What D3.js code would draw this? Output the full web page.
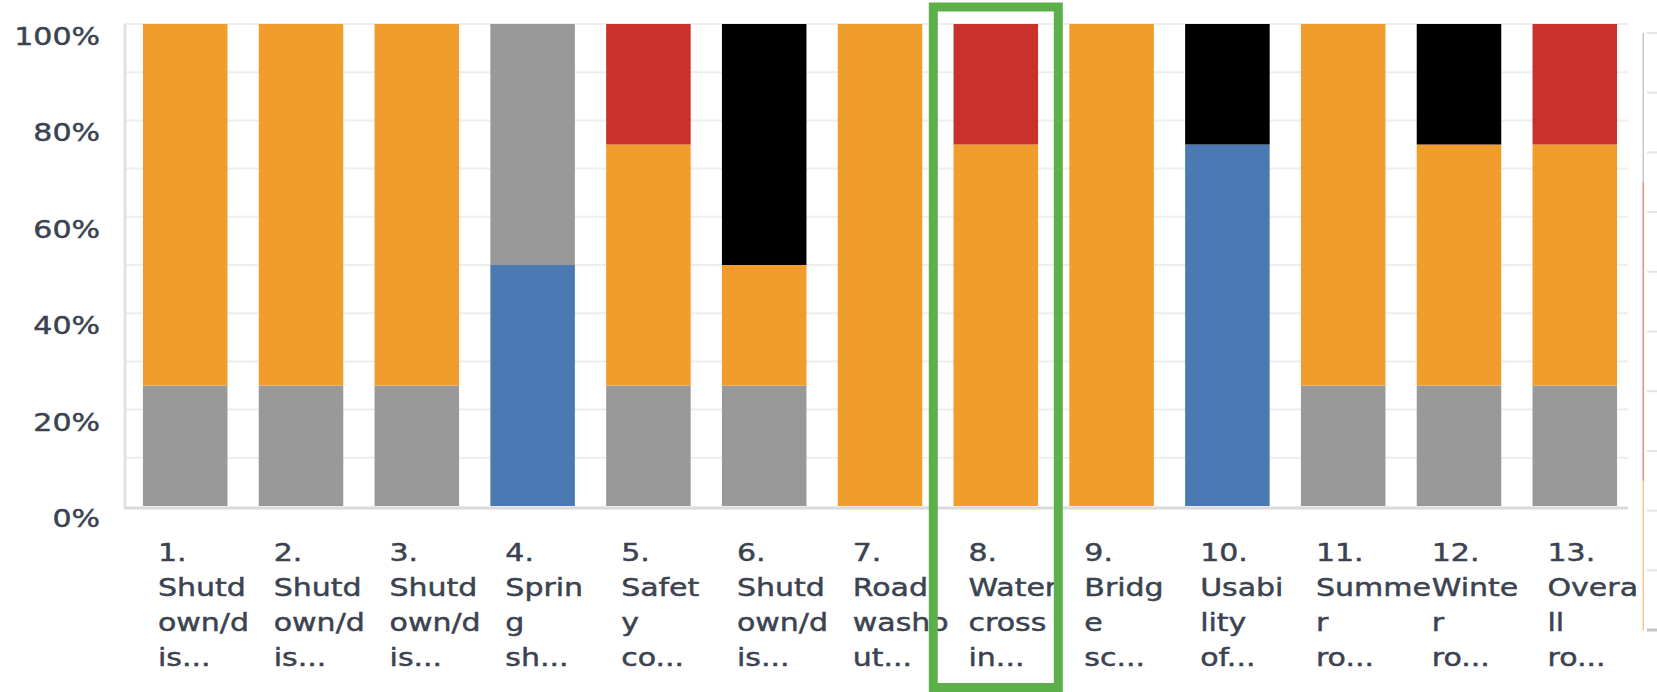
<!DOCTYPE html>
<html>
<head>
<meta charset="utf-8">
<script src="https://cdn.jsdelivr.net/npm/d3@7"></script>
<style>
  html, body { margin: 0; padding: 0; background: #ffffff; }
  svg { display: block; }
  text { font-family: "DejaVu Sans", sans-serif; fill: #3b4350; stroke: #3b4350; stroke-width: 0.45px; }
</style>
</head>
<body>
<svg id="chart" width="1657" height="692"></svg>
<script>
// ---- data ----
const categories = ["1","2","3","4","5","6","7","8","9","10","11","12","13"];
const categoryLabelLines = [
  ["1.", "Shutd", "own/d", "is..."],
  ["2.", "Shutd", "own/d", "is..."],
  ["3.", "Shutd", "own/d", "is..."],
  ["4.", "Sprin", "g", "sh..."],
  ["5.", "Safet", "y", "co..."],
  ["6.", "Shutd", "own/d", "is..."],
  ["7.", "Road", "washo", "ut..."],
  ["8.", "Water", "cross", "in..."],
  ["9.", "Bridg", "e", "sc..."],
  ["10.", "Usabi", "lity", "of..."],
  ["11.", "Summe", "r", "ro..."],
  ["12.", "Winte", "r", "ro..."],
  ["13.", "Overa", "ll", "ro..."]
];
// stacked bottom -> top
const seriesNames = ["blue", "gray", "orange", "black", "red"];
const blueValues   = [0, 0, 0, 50, 0, 0, 0, 0, 0, 75, 0, 0, 0];
const grayValues   = [25, 25, 25, 50, 25, 25, 0, 0, 0, 0, 25, 25, 25];
const orangeValues = [75, 75, 75, 0, 50, 25, 100, 75, 100, 0, 75, 50, 50];
const blackValues  = [0, 0, 0, 0, 0, 50, 0, 0, 0, 25, 0, 25, 0];
const redValues    = [0, 0, 0, 0, 25, 0, 0, 25, 0, 0, 0, 0, 25];
const seriesColors = ["#4b79b3", "#999999", "#f09d2c", "#000000", "#c8322b"];
const yTickValues = [0, 20, 40, 60, 80, 100];
const gridValues = [10, 20, 30, 40, 50, 60, 70, 80, 90, 100];
const highlightedCategory = "8";
// partially visible neighbouring panel (clipped at the right edge)
const sliverNames = ["orange", "red", "gray"];
const sliverValues = [25, 50, 25];
const sliverColors = ["#f09d2c", "#c8322b", "#999999"];
const sliverGrid = [0, 10, 20, 30, 40, 50, 60, 70, 80, 90, 100];

// ---- layout ----
const svg = d3.select("#chart");
const x = d3.scaleBand().domain(categories).range([125, 1635]).paddingInner(0.27).paddingOuter(0.155);
const y = d3.scaleLinear().domain([0, 100]).range([506, 24]);
const xLineEnd = 1628;
const sx = 1.25;

const rows = categories.map((c, i) => ({
  cat: c, blue: blueValues[i], gray: grayValues[i], orange: orangeValues[i],
  black: blackValues[i], red: redValues[i]
}));
const stack = d3.stack().keys(seriesNames)(rows);

// gridlines
svg.append("g").selectAll("line").data(gridValues).join("line")
  .attr("x1", x.range()[0]).attr("x2", xLineEnd)
  .attr("y1", d => y(d)).attr("y2", d => y(d))
  .attr("stroke", "#eeeeee").attr("stroke-width", 2);

// left axis line
svg.append("line")
  .attr("x1", x.range()[0]).attr("x2", x.range()[0])
  .attr("y1", y(100)).attr("y2", y(0) + 2)
  .attr("stroke", "#e2e2e2").attr("stroke-width", 3);

// bars
svg.append("g").selectAll("g").data(stack).join("g")
  .attr("fill", (d, i) => seriesColors[i])
  .selectAll("rect").data(d => d).join("rect")
  .attr("x", d => x(d.data.cat))
  .attr("width", x.bandwidth())
  .attr("y", d => y(d[1]))
  .attr("height", d => y(d[0]) - y(d[1]));

// baseline
svg.append("line")
  .attr("x1", x.range()[0] - 1).attr("x2", xLineEnd)
  .attr("y1", y(0) + 2).attr("y2", y(0) + 2)
  .attr("stroke", "#dadada").attr("stroke-width", 3);

// y tick labels
svg.append("g").selectAll("text").data(yTickValues).join("text")
  .attr("transform", d => `translate(100,${y(d) + 21}) scale(${sx},1)`)
  .attr("text-anchor", "end")
  .attr("font-size", 24)
  .text(d => d + "%");

// x labels
const lab = svg.append("g").selectAll("text").data(categories).join("text")
  .attr("transform", (d) => `translate(${x(d) + 15},0) scale(${sx},1)`)
  .attr("font-size", 24);
lab.selectAll("tspan").data((d, i) => categoryLabelLines[i]).join("tspan")
  .attr("x", 0)
  .attr("y", (d, j) => 561 + j * 35)
  .text(d => d);

// right clipped panel sliver
const yR = d3.scaleLinear().domain([0, 100]).range([630, 33]);
svg.append("g").selectAll("line").data(sliverGrid).join("line")
  .attr("x1", 1647).attr("x2", 1657)
  .attr("y1", d => yR(d)).attr("y2", d => yR(d))
  .attr("stroke", d => d === 0 ? "#c4c4c4" : "#e4e4e4").attr("stroke-width", d => d === 0 ? 3 : 2);
let acc = 0;
const sliverSegs = sliverValues.map((v, i) => { const s = { y0: acc, y1: acc + v, c: sliverColors[i] }; acc += v; return s; });
svg.append("g").selectAll("rect").data(sliverSegs).join("rect")
  .attr("x", 1642.5).attr("width", 1.5)
  .attr("y", d => yR(d.y1)).attr("height", d => yR(d.y0) - yR(d.y1))
  .attr("fill", d => d.c).attr("opacity", 0.55);

// highlight box
const hx = x(highlightedCategory) + x.bandwidth() / 2;
svg.append("rect")
  .attr("x", hx - 62.5).attr("y", 7)
  .attr("width", 125).attr("height", 680.5)
  .attr("fill", "none").attr("stroke", "#5cb04a").attr("stroke-width", 9);
</script>
</body>
</html>
